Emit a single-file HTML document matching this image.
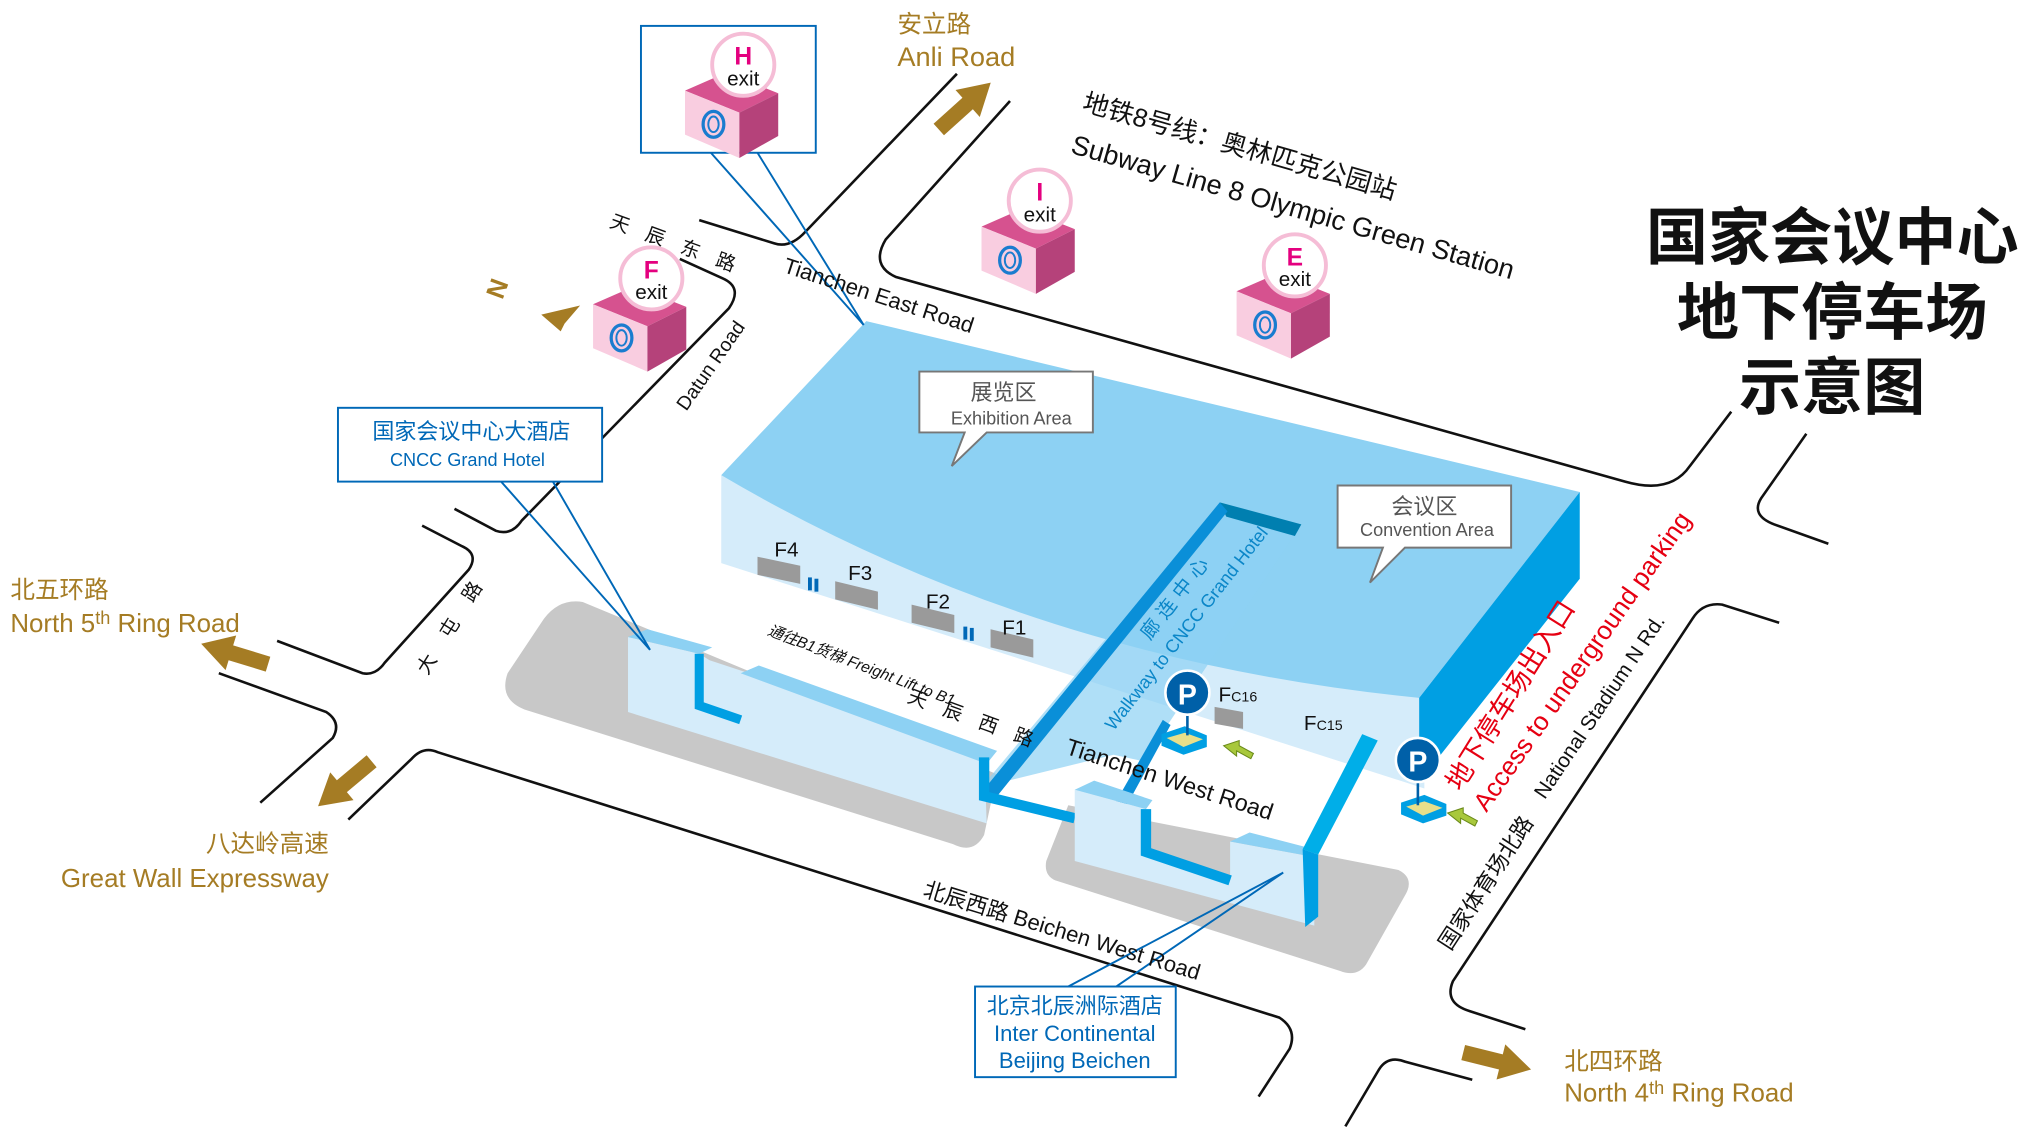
<!DOCTYPE html>
<html><head><meta charset="utf-8"><style>
html,body{margin:0;padding:0;background:#fff;}
svg{display:block;}
text{font-family:"Liberation Sans","Noto Sans CJK SC",sans-serif;}
</style></head><body>
<svg width="2020" height="1138" viewBox="0 0 1560 879" preserveAspectRatio="none" xmlns="http://www.w3.org/2000/svg">
<defs>
<g id="arr"><polygon points="0,-6 30,-6 30,-14 54,0 30,14 30,6 0,6" fill="#a57c24"/></g>
<g id="cube">
 <polygon points="-45,20 -13,6 27,22 -3,37" fill="#d6528f"/>
 <polygon points="-45,20 -3,37 -3,72 -45,54" fill="#f9cde0"/>
 <polygon points="-3,37 27,22 27,55 -3,72" fill="#b5427a"/>
 <ellipse cx="-23" cy="46" rx="8" ry="10" fill="none" stroke="#1a7ccf" stroke-width="2.5"/>
 <ellipse cx="-23" cy="46" rx="4" ry="6" fill="none" stroke="#1a7ccf" stroke-width="1.5"/>
 <circle cx="0" cy="0" r="24" fill="#fff" stroke="#f5bdd6" stroke-width="3"/>
 <text x="0" y="16" font-size="16" text-anchor="middle" fill="#111">exit</text>
</g>
</defs>

<!-- roads -->
<g fill="none" stroke="#111" stroke-width="2">
<path d="M739,57 L622,179 Q610,192 598,188 L540,170"/>
<path d="M780,78 L684,185 Q672,205 692,214 L1255,372 Q1290,382 1305,360 L1337,318"/>
<path d="M1395,335 L1360,385 Q1352,398 1370,405 L1412,420"/>
<path d="M1374,481 L1330,467 Q1315,465 1307,478 L1122,758 Q1115,775 1135,781 L1178,795"/>
<path d="M1039,870 L1065,826 Q1072,815 1085,820 L1137,834"/>
<path d="M269,633 L318,586 Q327,576 338,581 L988,786 Q1002,795 996,810 L972,847"/>
<path d="M169,520 L252,550 Q264,558 257,570 L201,620"/>
<path d="M214,495 L280,520 Q290,522 297,512 L362,440 Q370,428 357,422 L326,406"/>
<path d="M351,393 L383,410 Q395,414 403,402 L563,238 Q574,222 558,215 L525,200"/>
</g>

<!-- shadows -->
<path d="M450,465 L770,598 L760,645 Q752,660 736,652 L405,548 Q385,540 392,520 L420,478 Q432,462 450,465Z" fill="#c8c8c8"/>
<path d="M825,622 L1080,672 Q1092,678 1086,690 L1055,745 Q1048,755 1035,750 L815,680 Q806,676 808,665Z" fill="#c8c8c8"/>

<!-- building -->
<polygon points="557,367 557,435 1100,609 1100,539" fill="#d5ecfa"/>
<path d="M557,367 L669,248 L1220,380 L1096,539 Q800,510 557,367Z" fill="#8dd1f3"/>
<polygon points="1096,539 1220,380 1220,447 1096,604" fill="#009fe3"/>

<!-- F rects -->
<g fill="#9a9a9a">
<polygon points="585,430 618,437 618,451 585,444"/>
<polygon points="645,449 678,457 678,471 645,463"/>
<polygon points="704,467 737,475 737,489 704,481"/>
<polygon points="765,486 798,494 798,508 765,500"/>
<polygon points="938,546 960,550 960,563 938,559"/>
</g>
<rect x="624" y="446" width="3" height="10" fill="#0068b7"/><rect x="629" y="447" width="3" height="10" fill="#0068b7"/>
<rect x="744" y="484" width="3" height="10" fill="#0068b7"/><rect x="749" y="485" width="3" height="10" fill="#0068b7"/>
<g font-size="16" fill="#111">
<text x="598" y="430">F4</text><text x="655" y="448">F3</text><text x="715" y="470">F2</text><text x="774" y="490">F1</text>
<text x="941" y="542">F<tspan font-size="11">C16</tspan></text>
<text x="1007" y="564">F<tspan font-size="11">C15</tspan></text>
</g>

<!-- walkway -->
<polygon points="758,608 942,388 1005,405 883,588 860,583" fill="#8dd1f3" opacity="0.7"/>
<polygon points="942,388 1005,405 1000,414 947,399" fill="#007fb0"/>
<polygon points="942,388 948,395 770,615 758,612" fill="#0a8fd8"/>
<polygon points="898,556 904,560 867,628 858,626" fill="#0a8fd8"/>

<!-- left structure -->
<polygon points="485,492 540,505 548,510 760,580 762,636 485,550" fill="#d5ecfa"/>
<polygon points="485,492 500,486 550,500 540,505" fill="#8dd1f3"/>
<polygon points="572,520 586,514 770,580 762,590" fill="#8dd1f3"/>
<polyline points="540,505 540,545 572,556" fill="none" stroke="#009fe3" stroke-width="7"/>
<polyline points="760,585 760,615 830,632" fill="none" stroke="#009fe3" stroke-width="8"/>

<!-- right structure -->
<polygon points="830,610 885,625 885,655 950,678 950,650 1015,662 1015,715 830,665" fill="#d5ecfa"/>
<polygon points="830,610 845,603 890,618 885,625" fill="#8dd1f3"/>
<polygon points="950,650 965,643 1015,656 1015,662" fill="#8dd1f3"/>
<polyline points="885,625 885,658 950,680" fill="none" stroke="#009fe3" stroke-width="8"/>
<polygon points="1052,567 1064,572 1018,660 1006,656" fill="#00aee8"/>
<polygon points="1006,656 1018,660 1018,708 1008,716" fill="#009fe3"/>

<!-- P markers -->
<g>
<polygon points="897,567 915,561 932,568 932,577 914,583 897,576" fill="#009fe3"/>
<polygon points="901,570 915,566 929,571 914,577" fill="#e8df8a"/>
<line x1="917" y1="545" x2="917" y2="568" stroke="#0060a8" stroke-width="2"/>
<circle cx="917" cy="535" r="17" fill="#0060a8" stroke="#fff" stroke-width="2"/>
<text x="917" y="544" font-size="22" font-weight="bold" fill="#fff" text-anchor="middle">P</text>
<polygon points="945,576 957,572 957,576 968,582 966,586 955,580 955,584" fill="#a8c83c" stroke="#6a8a1a" stroke-width="0.8"/>
</g>
<g>
<polygon points="1082,620 1100,614 1117,621 1117,630 1099,636 1082,629" fill="#009fe3"/>
<polygon points="1086,623 1100,619 1114,624 1099,630" fill="#e8df8a"/>
<line x1="1095" y1="598" x2="1095" y2="622" stroke="#0060a8" stroke-width="2"/>
<circle cx="1095" cy="587" r="17" fill="#0060a8" stroke="#fff" stroke-width="2"/>
<text x="1095" y="596" font-size="22" font-weight="bold" fill="#fff" text-anchor="middle">P</text>
<polygon points="1118,628 1130,624 1130,628 1141,634 1139,638 1128,632 1128,636" fill="#a8c83c" stroke="#6a8a1a" stroke-width="0.8"/>
</g>

<!-- callouts -->
<g>
<polygon points="710,287 844,287 844,334 762,334 735,360 745,334 710,334" fill="#fff" stroke="#777" stroke-width="1.5"/>
<text x="775" y="309" font-size="17" fill="#555" text-anchor="middle">展览区</text>
<text x="781" y="328" font-size="14" fill="#555" text-anchor="middle">Exhibition Area</text>
<polygon points="1033,375 1167,375 1167,423 1085,423 1058,450 1068,423 1033,423" fill="#fff" stroke="#777" stroke-width="1.5"/>
<text x="1100" y="397" font-size="17" fill="#555" text-anchor="middle">会议区</text>
<text x="1102" y="414" font-size="14" fill="#555" text-anchor="middle">Convention Area</text>
</g>

<!-- walkway text -->
<text transform="translate(860,565) rotate(-52)" font-size="14" fill="#0a86c8">Walkway to CNCC Grand Hotel</text>
<text transform="translate(888,495) rotate(-52)" font-size="15" fill="#0a86c8" letter-spacing="5">廊连中心</text>

<!-- pointer lines -->
<g fill="none" stroke="#0068b7" stroke-width="1.5">
<polyline points="549,118 667,251 585,118"/>
<polyline points="387,372 502,502 427,372"/>
<polyline points="825,762 991,674 862,762"/>
</g>

<!-- H box -->
<rect x="495" y="20" width="135" height="98" fill="#fff" stroke="#0068b7" stroke-width="1.5"/>
<use href="#cube" transform="translate(574,50)"/>
<text x="574" y="50" font-size="19" font-weight="bold" fill="#e4007f" text-anchor="middle">H</text>
<use href="#cube" transform="translate(803,155)"/>
<text x="803" y="155" font-size="19" font-weight="bold" fill="#e4007f" text-anchor="middle">I</text>
<use href="#cube" transform="translate(503,215)"/>
<text x="503" y="215" font-size="19" font-weight="bold" fill="#e4007f" text-anchor="middle">F</text>
<use href="#cube" transform="translate(1000,205)"/>
<text x="1000" y="205" font-size="19" font-weight="bold" fill="#e4007f" text-anchor="middle">E</text>

<!-- hotel boxes -->
<rect x="261" y="315" width="204" height="57" fill="#fff" stroke="#0068b7" stroke-width="1.5"/>
<text x="364" y="339" font-size="17" fill="#0068b7" text-anchor="middle">国家会议中心大酒店</text>
<text x="361" y="360" font-size="14" fill="#0068b7" text-anchor="middle">CNCC Grand Hotel</text>
<rect x="753" y="762" width="155" height="70" fill="#fff" stroke="#0068b7" stroke-width="1.5"/>
<g font-size="17" fill="#0068b7" text-anchor="middle">
<text x="830" y="783">北京北辰洲际酒店</text><text x="830" y="804">Inter Continental</text><text x="830" y="825">Beijing Beichen</text>
</g>

<!-- gold labels -->
<g fill="#a57c24">
<text x="693" y="25" font-size="19">安立路</text>
<text x="693" y="51" font-size="21">Anli Road</text>
<text x="8" y="462" font-size="19">北五环路</text>
<text x="8" y="488" font-size="20">North 5<tspan font-size="14" dy="-6">th</tspan><tspan dy="6"> Ring Road</tspan></text>
<text x="254" y="658" font-size="19" text-anchor="end">八达岭高速</text>
<text x="254" y="685" font-size="20" text-anchor="end">Great Wall Expressway</text>
<text x="1208" y="826" font-size="19">北四环路</text>
<text x="1208" y="851" font-size="20">North 4<tspan font-size="14" dy="-6">th</tspan><tspan dy="6"> Ring Road</tspan></text>
</g>
<use href="#arr" transform="translate(725,100) rotate(-42)"/>
<use href="#arr" transform="translate(207,513) rotate(197)"/>
<use href="#arr" transform="translate(287,588) rotate(140)"/>
<use href="#arr" transform="translate(1130,813) rotate(14)"/>
<!-- N arrow -->
<text transform="translate(388,232) rotate(-70)" font-size="20" font-weight="bold" fill="#a57c24">N</text>
<polygon points="418,243 448,236 436,250 433,256" fill="#a57c24"/>

<!-- road names -->
<g fill="#111">
<text transform="translate(835,85) rotate(16)" font-size="20">地铁8号线：奥林匹克公园站</text>
<text transform="translate(826,118) rotate(16)" font-size="21">Subway Line 8  Olympic Green Station</text>
<text transform="translate(470,175) rotate(20)" font-size="15" letter-spacing="14">天辰东路</text>
<text transform="translate(604,210) rotate(18)" font-size="17">Tianchen East Road</text>
<text transform="translate(530,318) rotate(-55)" font-size="15">Datun Road</text>
<text transform="translate(330,522) rotate(-58)" font-size="15" letter-spacing="18">大屯路</text>
<text transform="translate(592,490) rotate(21)" font-size="12" font-style="italic">通往B1货梯 Freight Lift to B1</text>
<text transform="translate(700,542) rotate(20)" font-size="15" letter-spacing="14">天辰西路</text>
<text transform="translate(822,582) rotate(18)" font-size="18">Tianchen West Road</text>
<text transform="translate(712,692) rotate(17)" font-size="17">北辰西路   Beichen West Road</text>
<text transform="translate(1120,735) rotate(-57)" font-size="17">国家体育场北路</text>
<text transform="translate(1193,618) rotate(-56)" font-size="16">National Stadium N Rd.</text>
</g>
<g fill="#e60012">
<text transform="translate(1128,612) rotate(-58)" font-size="21">地下停车场出入口</text>
<text transform="translate(1148,628) rotate(-55)" font-size="20">Access to underground parking</text>
</g>

<!-- title -->
<g font-family="'Noto Serif CJK SC',serif" font-weight="bold" font-size="48" fill="#111" text-anchor="middle">
<text x="1415" y="200">国家会议中心</text>
<text x="1415" y="258">地下停车场</text>
<text x="1415" y="316">示意图</text>
</g>
</svg>
</body></html>
